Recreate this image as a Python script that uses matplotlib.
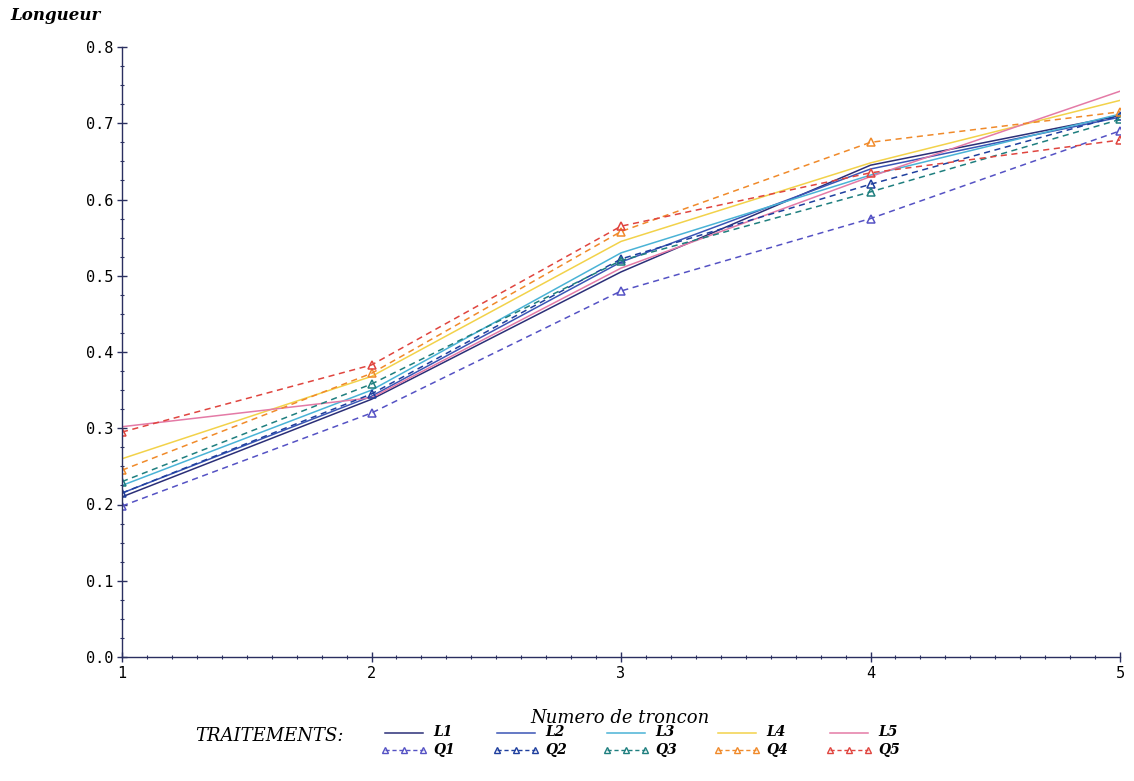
import matplotlib
matplotlib.use("Agg")
import matplotlib.pyplot as plt
from matplotlib.ticker import MultipleLocator, FixedLocator
from matplotlib.lines import Line2D

# ---- data ----
troncon = [1, 2, 3, 4, 5]
L1 = [0.210, 0.338, 0.505, 0.645, 0.710]
L2 = [0.215, 0.342, 0.518, 0.640, 0.708]
L3 = [0.225, 0.350, 0.530, 0.632, 0.712]
L4 = [0.260, 0.368, 0.545, 0.648, 0.730]
L5 = [0.302, 0.340, 0.510, 0.630, 0.742]
Q1 = [0.198, 0.320, 0.480, 0.575, 0.690]
Q2 = [0.215, 0.345, 0.522, 0.620, 0.710]
Q3 = [0.230, 0.358, 0.520, 0.610, 0.705]
Q4 = [0.245, 0.372, 0.558, 0.675, 0.715]
Q5 = [0.295, 0.383, 0.565, 0.635, 0.678]
y_ticks = [0.0, 0.1, 0.2, 0.3, 0.4, 0.5, 0.6, 0.7, 0.8]
y_ticklabels = ["0.0", "0.1", "0.2", "0.3", "0.4", "0.5", "0.6", "0.7", "0.8"]
x_ticklabels = ["1", "2", "3", "4", "5"]

L_names = ["L1", "L2", "L3", "L4", "L5"]
Q_names = ["Q1", "Q2", "Q3", "Q4", "Q5"]
L_data = [L1, L2, L3, L4, L5]
Q_data = [Q1, Q2, Q3, Q4, Q5]
L_colors = ["#2b2f78", "#3a55b5", "#4ab3d6", "#f2d24a", "#e47aa6"]
Q_colors = ["#5552c4", "#1f3f9e", "#1f7f7f", "#f08a2a", "#e0453f"]

W, H = 1134, 781
fig = plt.figure(figsize=(W / 100, H / 100), dpi=100)
fig.patch.set_facecolor("white")
ax = fig.add_axes([122 / W, (H - 657) / H, (1120 - 122) / W, (657 - 47) / H])

for d, c in zip(L_data, L_colors):
    ax.plot(troncon, d, color=c, lw=1.1, ls="-")
for d, c in zip(Q_data, Q_colors):
    ax.plot(troncon, d, color=c, lw=1.1, ls=(0, (4, 3)), marker="^",
            markersize=6, markerfacecolor="none", markeredgecolor=c, markeredgewidth=1.1)

ax.set_xlim(1, 5)
ax.set_ylim(0, 0.8)
ax.spines["top"].set_visible(False)
ax.spines["right"].set_visible(False)
for s in ("left", "bottom"):
    ax.spines[s].set_color("#2a2f60")
    ax.spines[s].set_linewidth(1.0)
ax.yaxis.set_major_locator(FixedLocator(y_ticks))
ax.set_yticklabels(y_ticklabels, family="DejaVu Sans Mono", fontsize=11)
ax.xaxis.set_major_locator(FixedLocator(troncon))
ax.set_xticklabels(x_ticklabels, family="DejaVu Sans Mono", fontsize=11)
ax.xaxis.set_minor_locator(MultipleLocator(0.1))
ax.yaxis.set_minor_locator(MultipleLocator(0.025))
ax.tick_params(which="major", direction="inout", length=7, width=1, color="#2a2f60", pad=3)
ax.tick_params(which="minor", direction="inout", length=3, width=0.8, color="#2a2f60")

fig.text(10 / W, 1 - 16 / H, "Longueur", family="DejaVu Serif", style="italic",
         fontweight="bold", fontsize=12, va="center", ha="left")
fig.text(620 / W, 1 - 718 / H, "Numero de troncon", family="DejaVu Serif", style="italic",
         fontsize=13, va="center", ha="center")

# legend area
lax = fig.add_axes([0, 0, 1, 1])
lax.set_xlim(0, W)
lax.set_ylim(H, 0)
lax.axis("off")
lax.text(195, 736, "TRAITEMENTS:", family="DejaVu Serif", style="italic",
         fontsize=13, va="center", ha="left")
col_x = [385, 497, 607, 718, 830]
for i in range(5):
    x0 = col_x[i]
    lax.add_line(Line2D([x0, x0 + 38], [733, 733], color=L_colors[i], lw=1.1))
    lax.text(x0 + 48, 732, L_names[i], family="DejaVu Serif", style="italic",
             fontweight="bold", fontsize=10, va="center", ha="left")
    lax.add_line(Line2D([x0, x0 + 19, x0 + 38], [750, 750, 750], color=Q_colors[i], lw=1.0,
                        ls=(0, (3, 2)), marker="^", markersize=4,
                        markerfacecolor="none", markeredgecolor=Q_colors[i]))
    lax.text(x0 + 48, 750, Q_names[i], family="DejaVu Serif", style="italic",
             fontweight="bold", fontsize=10, va="center", ha="left")

fig.savefig("out.png", dpi=100, facecolor="white")
